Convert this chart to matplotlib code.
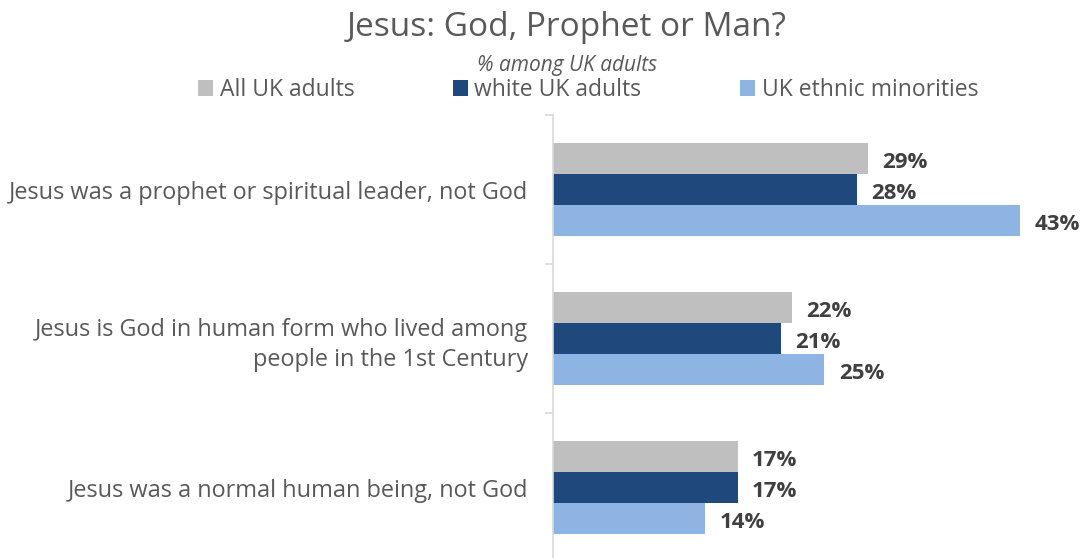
import matplotlib
matplotlib.use('Agg')
import matplotlib.pyplot as plt
from matplotlib.patches import Patch

# data
categories = ['Jesus was a prophet or spiritual leader, not God',
              'Jesus is God in human form who lived among\npeople in the 1st Century',
              'Jesus was a normal human being, not God']
series_names = ['All UK adults', 'white UK adults', 'UK ethnic minorities']
all_uk = [29, 22, 17]
white_uk = [28, 21, 17]
minorities = [43, 25, 14]

colors = ['#BFBFBF', '#1F497D', '#8EB4E3']
text_grey = '#595959'

plt.rcParams['font.family'] = ['Open Sans', 'DejaVu Sans']

fig = plt.figure(figsize=(10.85, 5.58), dpi=100)
ax = fig.add_axes([553 / 1085, 1 - 562 / 558, 1 - 553 / 1085, 447 / 558])

ypos = [2, 1, 0]
bar_h = 0.208
offsets = [bar_h, 0, -bar_h]
for vals, off, col in zip([all_uk, white_uk, minorities], offsets, colors):
    ys = [y + off for y in ypos]
    ax.barh(ys, vals, height=bar_h, color=col, edgecolor='none')
    for y, v in zip(ys, vals):
        ax.annotate(f'{v}%', xy=(v, y), xytext=(10.5, -3), textcoords='offset points',
                    ha='left', va='center', fontsize=16, fontweight='bold', color='#404040')

ax.set_xlim(0, 49)
ax.set_ylim(-0.5, 2.5)
ax.set_xticks([])
ax.set_yticks(ypos)
ax.set_yticklabels(categories, fontsize=16.9, color=text_grey, ha='right', linespacing=1.35)
ax.tick_params(axis='y', which='major', length=0, pad=18)
ax.set_yticks([-0.5, 0.5, 1.5, 2.5], minor=True)
ax.tick_params(axis='y', which='minor', length=6, color='#D9D9D9', width=1.2)
for s in ['top', 'right', 'bottom']:
    ax.spines[s].set_visible(False)
ax.spines['left'].set_color('#D9D9D9')
ax.spines['left'].set_linewidth(1.2)

fig.text(567 / 1085, 1 - 28 / 558, 'Jesus: God, Prophet or Man?', ha='center', va='center',
         fontsize=24, color=text_grey)
fig.text(567 / 1085, 1 - 65 / 558, '% among UK adults', ha='center', va='center',
         fontsize=15, style='italic', color=text_grey)

handles = [Patch(facecolor=c, edgecolor='none') for c in colors]
fig.legend(handles, series_names, loc='center', bbox_to_anchor=(588 / 1085, 1 - 90 / 558),
           ncol=3, frameon=False, fontsize=16.5, labelcolor=text_grey,
           handlelength=0.65, handleheight=0.65, handletextpad=0.3, columnspacing=4.3,
           borderpad=0, borderaxespad=0)

fig.savefig('out.png', dpi=100)
